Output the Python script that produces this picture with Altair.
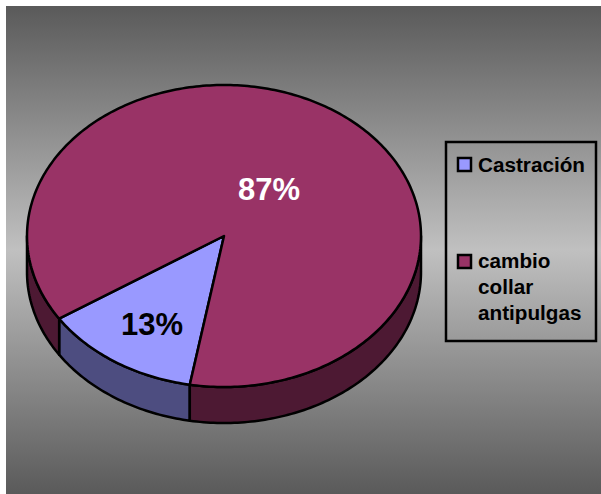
import math
import altair as alt

categories = ["Castración", "cambio\ncollar\nantipulgas"]
shares = [13, 87]
top_colors = ["#9999FF", "#993366"]
side_colors = ["#4D4D80", "#4D1933"]

RX, RY, DEPTH = 197, 151, 36
START_ANGLE = 190
W, H = 601, 494


def rim(t, drop=0.0):
    rad = math.radians(t)
    return [RX * math.sin(rad), -RY * math.cos(rad) + drop]


def sweep(a, b):
    steps = max(2, int(abs(b - a)))
    return [a + (b - a) * i / steps for i in range(steps + 1)]


def feature(ring, fill):
    return {
        "type": "Feature",
        "properties": {"fill": fill},
        "geometry": {"type": "Polygon", "coordinates": [ring + [ring[0]]]},
    }


def wall(a, b, fill):
    upper = [rim(t) for t in sweep(a, b)]
    lower = [rim(t, DEPTH) for t in sweep(b, a)]
    return feature(upper + lower, fill)


# Walk the slices clockwise, collecting the visible front walls and the top faces.
walls, faces = [], []
angle = START_ANGLE
for share, top, side in zip(shares, top_colors, side_colors):
    end = angle + share * 3.6
    for offset in (0, 360):
        a, b = max(angle, 90 + offset), min(end, 270 + offset)
        if a < b:
            walls.append(wall(a, b, side))
    faces.append(feature([[0, 0]] + [rim(t) for t in sweep(angle, end)], top))
    angle = end

pie = (
    alt.Chart(
        alt.Data(
            values={"type": "FeatureCollection", "features": walls + faces},
            format=alt.DataFormat(property="features", type="json"),
        )
    )
    .mark_geoshape(stroke="black", strokeWidth=2.5, strokeJoin="round")
    .encode(color=alt.Color("properties.fill:N", scale=None, legend=None))
    .project(type="identity", scale=1, translate=[224, 236])
)

one_row = alt.Data(values=[{"row": 0}])

backdrop = alt.Chart(one_row).mark_rect(
    color=alt.Gradient(
        gradient="linear",
        x1=0, x2=0, y1=0, y2=1,
        stops=[
            alt.GradientStop(offset=0, color="#5A5A5A"),
            alt.GradientStop(offset=0.5, color="#C0C0C0"),
            alt.GradientStop(offset=1, color="#5A5A5A"),
        ],
    )
).encode(x=alt.value(6), x2=alt.value(W), y=alt.value(6), y2=alt.value(H))

legend_box = alt.Chart(one_row).mark_rect(
    fillOpacity=0, stroke="black", strokeWidth=2.5
).encode(x=alt.value(446), x2=alt.value(596), y=alt.value(142), y2=alt.value(341))


def swatch(fill, top):
    return alt.Chart(one_row).mark_rect(
        color=fill, stroke="black", strokeWidth=2.5
    ).encode(x=alt.value(458), x2=alt.value(471), y=alt.value(top), y2=alt.value(top + 13))


def label(text, x, y, size, fill="black", align="left", baseline="middle"):
    return alt.Chart(alt.Data(values=[{"t": text}])).mark_text(
        font="Liberation Sans", fontWeight="bold", fontSize=size, color=fill,
        align=align, baseline=baseline, lineBreak="\n", lineHeight=26,
    ).encode(x=alt.value(x), y=alt.value(y), text="t:N")


chart = alt.layer(
    backdrop,
    pie,
    label(f"{shares[1]}%", 269, 191, 31, "white", "center"),
    label(f"{shares[0]}%", 152, 326, 31, "black", "center"),
    legend_box,
    swatch(top_colors[0], 158),
    swatch(top_colors[1], 255),
    label(categories[0], 478, 166, 20.7),
    label(categories[1], 478, 262, 20.7, baseline="middle"),
).properties(
    width=W, height=H, padding=0, autosize=alt.AutoSizeParams(type="none"), background="white"
).configure_view(stroke=None)

chart.save("out.html", embed_options={"renderer": "svg", "actions": False})
